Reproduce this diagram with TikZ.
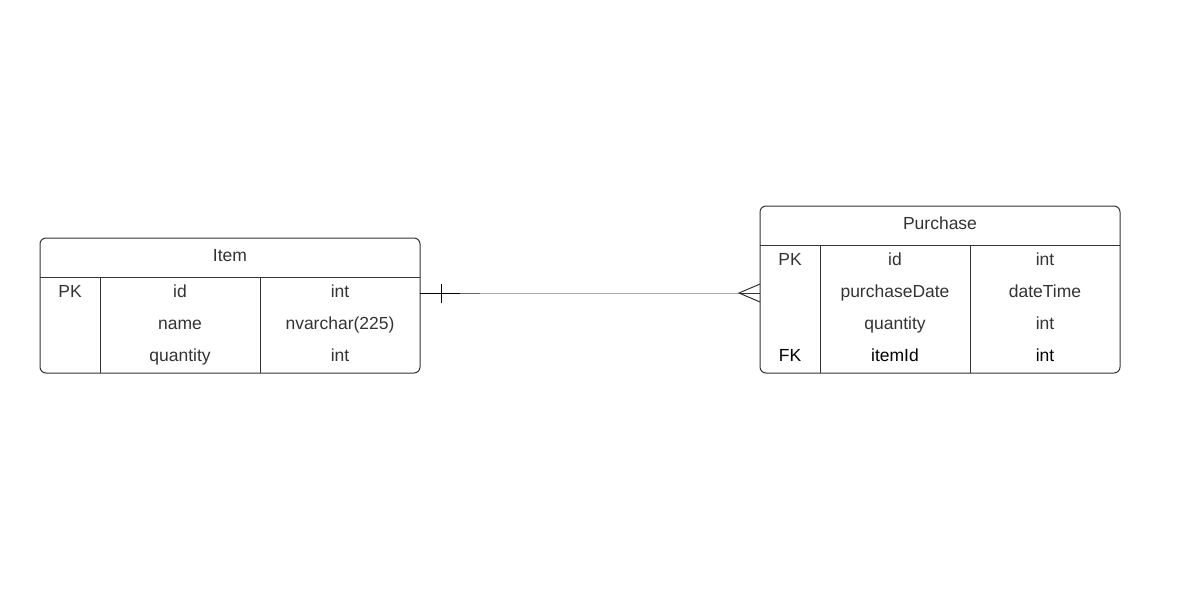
\documentclass[tikz,border=0pt]{standalone}
\usepackage{fontspec}
\setmainfont{Liberation Sans}
\definecolor{ink}{HTML}{333333}
\definecolor{wire}{HTML}{A8A8A8}

\begin{document}
\begin{tikzpicture}[x=1pt, y=-1pt, line width=1pt,
  every node/.style={font=\fontsize{17.5}{20}\selectfont, text=ink, inner sep=0pt, text height=12.5pt, text depth=0pt},
  tbl/.style={draw=ink, rounded corners=6pt, text height=, minimum height=0pt}]
  \useasboundingbox (0,0) rectangle (1183,595);
  % Item table
  \node[tbl, minimum width=380pt, minimum height=135pt] (item) at (230,305.5) {};
  \draw[ink] (40,277) -- (420,277);
  \draw[ink] (100,277) -- (100,373);
  \draw[ink] (260,277) -- (260,373);
  \node (itemT) at (230,255) {Item};
  \node (itemPK) at (70,291) {PK};
  \node (itemId) at (180,291) {id};
  \node (itemIdT) at (340,291) {int};
  \node (itemName) at (180,323) {name};
  \node (itemNameT) at (340,323) {nvarchar(225)};
  \node (itemQty) at (180,355) {quantity};
  \node (itemQtyT) at (340,355) {int};
  % Purchase table
  \node[tbl, minimum width=360pt, minimum height=167pt] (purchase) at (940,289.5) {};
  \draw[ink] (760,245) -- (1120,245);
  \draw[ink] (820,245) -- (820,373);
  \draw[ink] (970,245) -- (970,373);
  \node (purT) at (940,223) {Purchase};
  \node (purPK) at (790,259) {PK};
  \node (purId) at (895,259) {id};
  \node (purIdT) at (1045,259) {int};
  \node (purDate) at (895,291) {purchaseDate};
  \node (purDateT) at (1045,291) {dateTime};
  \node (purQty) at (895,323) {quantity};
  \node (purQtyT) at (1045,323) {int};
  \node[text=black] (purFK) at (790,355) {FK};
  \node[text=black] (purItem) at (895,355) {itemId};
  \node[text=black] (purItemT) at (1045,355) {int};
  % relation
  \coordinate (itemR) at (420,293);
  \coordinate (purL) at (760,293);
  \draw[wire] (itemR) -- (purL);
  \draw[black] (itemR) -- ++(40,0);
  \draw[black!60] (460,293) -- (480,293);
  \draw[black] (441,284) -- (441,303);
  \draw[ink] (739,293) -- (purL);
  \draw[ink] (760,284) -- (739,293) -- (760,302);
\end{tikzpicture}
\end{document}
